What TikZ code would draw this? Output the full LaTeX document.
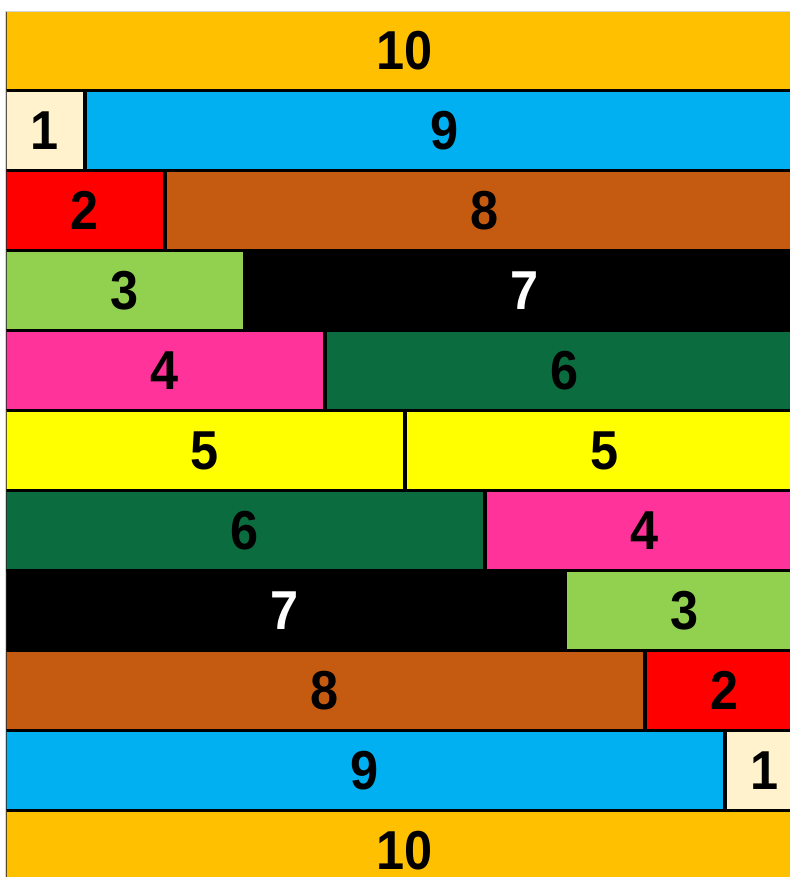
\documentclass[tikz,border=0pt]{standalone}
\usepackage{fontspec}
\newfontfamily\digfont{Liberation Sans}[FakeStretch=0.92]
\definecolor{c1}{HTML}{FFF2CC}
\definecolor{c2}{HTML}{FF0000}
\definecolor{c3}{HTML}{92D050}
\definecolor{c4}{HTML}{FF3399}
\definecolor{c5}{HTML}{FFFF00}
\definecolor{c6}{HTML}{0B6D3F}
\definecolor{c7}{HTML}{000000}
\definecolor{c8}{HTML}{C55A11}
\definecolor{c9}{HTML}{00B0F0}
\definecolor{c10}{HTML}{FFC000}
\colorlet{tc1}{black}\colorlet{tc2}{black}\colorlet{tc3}{black}
\colorlet{tc4}{black}\colorlet{tc5}{black}\colorlet{tc6}{black}
\colorlet{tc7}{white}\colorlet{tc8}{black}\colorlet{tc9}{black}
\colorlet{tc10}{black}
\definecolor{framegray}{HTML}{D4D4D4}
\begin{document}
\begin{tikzpicture}[
  blk/.style={draw=black, line width=2.5pt, inner sep=0pt, outer sep=0pt,
    anchor=north west, minimum height=2cm,
    font=\digfont\bfseries\fontsize{39}{39}\selectfont}]
\useasboundingbox (0,0) rectangle (19.75,21.925);
\begin{scope}
\clip (0.16,0) rectangle (19.75,21.63);
\node[blk, fill=c10, text=tc10, minimum width=20cm] (T) at (0.125,21.6625) {10};
\foreach \i [evaluate=\i as \j using int(10-\i)] in {1,...,9}{
  \pgfmathsetmacro\wl{2*\i}
  \pgfmathsetmacro\wr{20-2*\i}
  \pgfmathsetmacro\yt{21.6625-2*\i}
  \pgfmathsetmacro\xr{0.125+2*\i}
  \node[blk, fill=c\i, text=tc\i, minimum width=\wl cm] (L\i) at (0.125,\yt) {\i};
  \node[blk, fill=c\j, text=tc\j, minimum width=\wr cm] (R\i) at (\xr,\yt) {\j};
}
\node[blk, fill=c10, text=tc10, minimum width=20cm] (B) at (0.125,1.6625) {10};
\end{scope}
\draw[framegray, line width=0.8pt] (0.14,0) -- (0.14,21.64) -- (19.75,21.64);
\end{tikzpicture}
\end{document}
